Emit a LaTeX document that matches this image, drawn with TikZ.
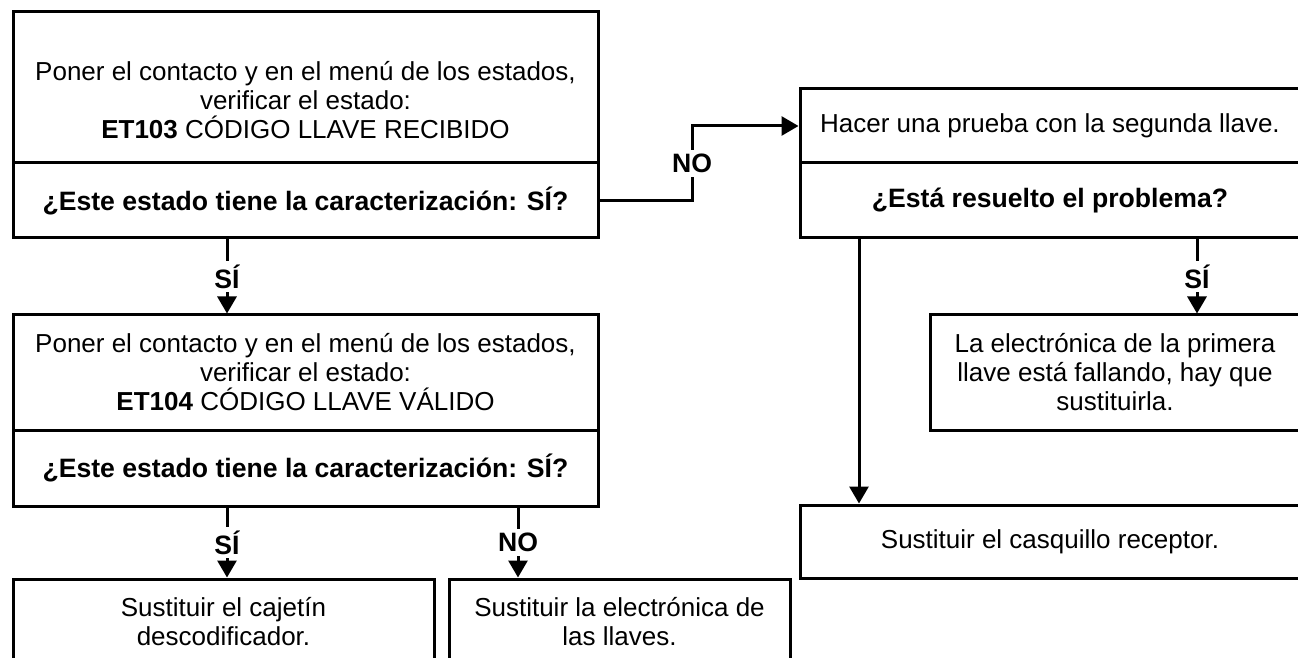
\documentclass[tikz,border=0pt]{standalone}
\usepackage{fontspec}
\setmainfont{Liberation Sans}
\usetikzlibrary{arrows.meta}

\tikzset{
  box/.style={draw, line width=1.5pt, inner sep=0pt, align=center,
    font=\fontsize{13}{14.5}\selectfont},
  ask/.style={box, font=\fontsize{13.3}{14.5}\selectfont\bfseries},
  answer/.style={fill=white, inner sep=2pt, font=\fontsize{13.3}{14.5}\selectfont\bfseries},
  flow/.style={-{Triangle[length=8.5pt,width=9.5pt]}}
}

\begin{document}
\begin{tikzpicture}[x=0.5pt, y=-0.5pt, line width=1.5pt]

	% Page frame
	\useasboundingbox (0,0) rectangle (1298,658);
	\clip (0,0) rectangle (1298,658);

	% Columns of the connectors
	\coordinate (colA) at (227,0);
	\coordinate (colB) at (518,0);
	\coordinate (colC) at (692,0);
	\coordinate (colD) at (859,0);
	\coordinate (colE) at (1197,0);

	% FIRST CHECK (ET103)
	\node[box, minimum width=292.5pt, minimum height=75.5pt] (et103) at (305.5,87.5)
		{\mbox{}\\[8pt]Poner el contacto y en el menú de los estados,\\ verificar el estado:\\ \textbf{ET103} CÓDIGO LLAVE RECIBIDO};
	\node[ask, minimum width=292.5pt, minimum height=37.5pt] (ask103) at (305.5,200.5)
		{¿Este estado tiene la caracterización: SÍ?};

	% SECOND CHECK (ET104)
	\node[box, minimum width=292.5pt, minimum height=57.5pt] (et104) at (305.5,372.5)
		{Poner el contacto y en el menú de los estados,\\ verificar el estado:\\ \textbf{ET104} CÓDIGO LLAVE VÁLIDO};
	\node[ask, minimum width=292.5pt, minimum height=38pt] (ask104) at (305.5,468)
		{¿Este estado tiene la caracterización: SÍ?};

	% TEST WITH THE SECOND KEY
	\node[box, minimum width=250pt, minimum height=37pt] (test) at (1050,126)
		{Hacer una prueba con la segunda llave.};
	\node[ask, minimum width=250pt, minimum height=37.5pt] (solved) at (1050,200.5)
		{¿Está resuelto el problema?};

	% RESULTS
	\node[box, minimum width=185pt, minimum height=57.5pt] (keyfail) at (1115,372.5)
		{La electrónica de la primera\\ llave está fallando, hay que\\ sustituirla.};
	\node[box, minimum width=250pt, minimum height=36.5pt] (receiver) at (1050,541.5)
		{Sustituir el casquillo receptor.};
	\node[box, minimum width=210.5pt, minimum height=43pt] (decoder) at (223.5,622)
		{Sustituir el cajetín\\ descodificador.};
	\node[box, minimum width=170.5pt, minimum height=43pt] (keys) at (619.5,622)
		{Sustituir la electrónica de\\ las llaves.};

	% CONNECTORS
	\draw[flow] (ask103.south -| colA) -- node[answer] {SÍ} (et104.north -| colA);
	\draw[flow] (ask103.east) -- (ask103.east -| colC) -- node[answer] {NO} (colC |- test.west) -- (test.west);
	\draw[flow] (solved.south -| colD) -- (receiver.north -| colD);
	\draw[flow] (solved.south -| colE) -- node[answer] {SÍ} (keyfail.north -| colE);
	\draw[flow] (ask104.south -| colA) -- node[answer] {SÍ} (decoder.north -| colA);
	\draw[flow] (ask104.south -| colB) -- node[answer] {NO} (keys.north -| colB);

\end{tikzpicture}
\end{document}
